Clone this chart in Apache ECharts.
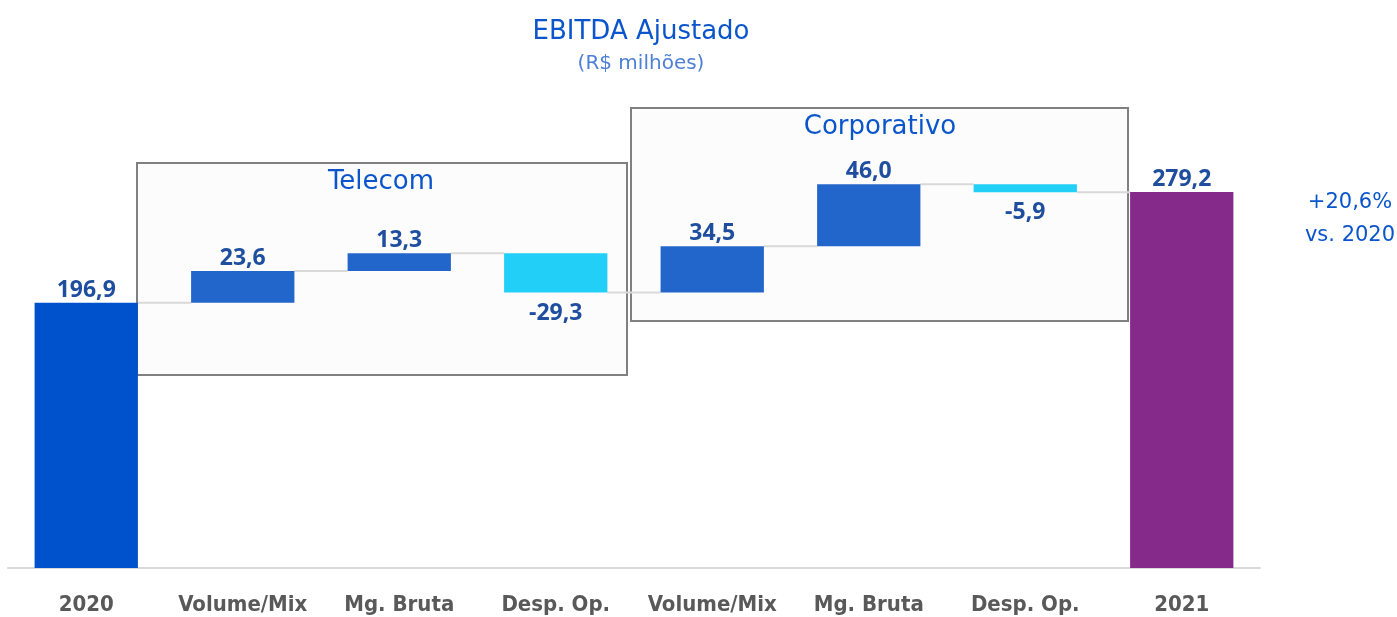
<!DOCTYPE html>
<html>
<head>
<meta charset="utf-8">
<script src="https://cdn.jsdelivr.net/npm/echarts@6/dist/echarts.min.js"></script>
<style>
  html, body { margin: 0; padding: 0; background: #fff; }
  #chart { width: 1397px; height: 617px; }
</style>
</head>
<body>
<div id="chart"></div>
<script>
// categorias do eixo x
const categories = ['2020', 'Volume/Mix', 'Mg. Bruta', 'Desp. Op.', 'Volume/Mix', 'Mg. Bruta', 'Desp. Op.', '2021']
// valor inicial, variações e valor final (R$ milhões)
const startValue = 196.9
const deltas = [23.6, 13.3, -29.3, 34.5, 46.0, -5.9]
const endValue = 279.2

const colorStart = '#0052CC'
const colorUp = '#2366CB'
const colorDown = '#22CFF7'
const colorEnd = '#85298B'
const labelColor = '#1F4E9E'
const titleBlue = '#0A55CC'
const titleFont = 'DejaVu Sans'

// monta base invisível + barra visível
const baseData = [0]
const visibleData = [{ value: startValue, itemStyle: { color: colorStart } }]
const labelValues = [startValue]
const levels = [startValue]
let level = startValue
deltas.forEach(d => {
  const next = level + d
  baseData.push(Math.min(level, next))
  visibleData.push({
    value: Math.abs(d),
    itemStyle: { color: d >= 0 ? colorUp : colorDown },
    label: d >= 0 ? { position: 'top' } : { position: 'bottom', distance: 9 }
  })
  labelValues.push(d)
  level = next
  levels.push(level)
})
baseData.push(0)
visibleData.push({ value: endValue, itemStyle: { color: colorEnd } })
labelValues.push(endValue)

const fmt = v => v.toFixed(1).replace('.', ',')

// conectores entre barras
const connectorData = levels.map((v, i) => [i, v])
const barRatio = 0.66

const chart = echarts.init(document.getElementById('chart'))

const option = {
  animation: false,
  backgroundColor: '#ffffff',
  title: {
    text: 'EBITDA Ajustado',
    subtext: '(R$ milhões)',
    left: 636,
    top: 14,
    textAlign: 'center',
    itemGap: 9,
    textStyle: { fontFamily: titleFont, fontSize: 26, fontWeight: 'normal', color: titleBlue },
    subtextStyle: { fontFamily: titleFont, fontSize: 20, color: '#4D80D6' }
  },
  grid: { left: 8, right: 137, top: 164, bottom: 49 },
  xAxis: {
    type: 'category',
    data: categories,
    axisLine: { lineStyle: { color: '#D9D9D9', width: 2 } },
    axisTick: { show: false },
    axisLabel: {
      interval: 0,
      margin: 26,
      color: '#595959',
      fontFamily: 'Liberation Sans Narrow, DejaVu Sans Condensed, Liberation Sans',
      fontWeight: 'bold',
      fontSize: 22
    }
  },
  yAxis: {
    type: 'value',
    min: 0,
    max: 300,
    show: false,
    splitLine: { show: false }
  },
  graphic: [
    {
      type: 'rect', z: 0,
      shape: { x: 137, y: 163, width: 490, height: 212 },
      style: { fill: '#FCFCFC', stroke: '#808080', lineWidth: 2 }
    },
    {
      type: 'rect', z: 0,
      shape: { x: 631, y: 108, width: 497, height: 213 },
      style: { fill: '#FCFCFC', stroke: '#808080', lineWidth: 2 }
    },
    {
      type: 'text', z: 5, x: 381, y: 169,
      style: { text: 'Telecom', fill: titleBlue, font: '26px "DejaVu Sans"', textAlign: 'center' }
    },
    {
      type: 'text', z: 5, x: 880, y: 114,
      style: { text: 'Corporativo', fill: titleBlue, font: '26px "DejaVu Sans"', textAlign: 'center' }
    },
    {
      type: 'text', z: 5, x: 1350, y: 186,
      style: { text: '+20,6%\nvs. 2020', fill: titleBlue, font: '21px "DejaVu Sans"', textAlign: 'center', lineHeight: 33 }
    }
  ],
  series: [
    {
      type: 'custom',
      z: 1,
      silent: true,
      data: connectorData,
      renderItem: (params, api) => {
        const i = api.value(0)
        if (i >= categories.length - 1) return null
        const p0 = api.coord([i, api.value(1)])
        const p1 = api.coord([i + 1, api.value(1)])
        const bw = api.size([1, 0])[0] * barRatio
        return {
          type: 'line',
          shape: { x1: p0[0] + bw / 2, y1: p0[1], x2: p1[0] - bw / 2, y2: p1[1] },
          style: { stroke: '#D9D9D9', lineWidth: 2 }
        }
      }
    },
    {
      type: 'bar',
      stack: 'wf',
      silent: true,
      barCategoryGap: '34%',
      itemStyle: { color: 'transparent' },
      data: baseData
    },
    {
      type: 'bar',
      stack: 'wf',
      z: 3,
      barCategoryGap: '34%',
      data: visibleData,
      label: {
        show: true,
        position: 'top',
        distance: 1,
        color: labelColor,
        fontFamily: 'Open Sans',
        fontWeight: 'bold',
        fontSize: 23,
        formatter: p => fmt(labelValues[p.dataIndex])
      }
    }
  ]
}

chart.setOption(option)
</script>
</body>
</html>
